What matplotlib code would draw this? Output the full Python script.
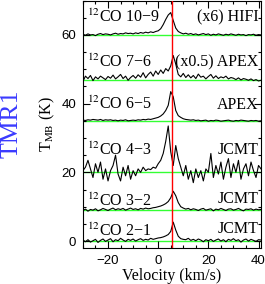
import numpy as np
import matplotlib
matplotlib.use("Agg")
import matplotlib.pyplot as plt
from matplotlib.ticker import MultipleLocator

plt.rcParams['font.family'] = ['Liberation Serif', 'DejaVu Serif']
plt.rcParams['mathtext.fontset'] = 'stix'

# channel velocities (km/s)
velocity = [-30, -29, -28, -27, -26, -25, -24, -23, -22, -21, -20, -19, -18, -17, -16,
            -15, -14, -13, -12, -11, -10, -9, -8, -7, -6, -5, -4, -3, -2, -1,
            0, 1, 2, 3, 4, 5, 6, 7, 8, 9, 10,
            11, 12, 13, 14, 15, 16, 17, 18, 19, 20, 21, 22, 23, 24, 25, 26, 27, 28,
            29, 30, 31, 32, 33, 34, 35, 36, 37, 38, 39, 40, 41]

co21 = [0.3, -0.2, 0.4, -0.3, 0.1, 0.5, -0.4, 0.2, 0.6, -0.1, 0.3, 0.7, -0.2, 0.4, 0.1,
        0.8, 0.3, -0.1, 0.5, 0.2, 0.6, 0.0, 0.4, 0.7, 0.2, 0.5, 0.3, 0.8, 0.5, 0.7,
        0.9, 1.0, 1.2, 1.5, 1.9, 2.8, 5.5, 3.2, 1.4, 0.7, 0.5,
        0.4, 0.8, 0.2, 0.5, 0.1, 0.6, 0.3, -0.2, 0.4, 0.1, 0.5, -0.1, 0.3, 0.6, 0.0,
        0.4, -0.2, 0.5, 0.2, 0.7, 0.1, 0.4, -0.3, 0.3, 0.6, 0.0, 0.5, 0.2, -0.1, 0.4, 0.3]
co32 = [-0.1, 0.3, -0.3, 0.2, 0.0, 0.4, -0.2, 0.1, 0.5, 0.2, -0.1, 0.3, 0.6, 0.1, 0.4,
        0.2, 0.5, 0.0, 0.3, 0.6, 0.2, 0.4, 0.1, 0.5, 0.3, 0.6, 0.4, 0.5, 0.7, 0.8,
        1.0, 1.2, 1.5, 1.9, 2.5, 3.6, 5.5, 4.2, 2.2, 1.0, 0.6,
        0.3, 0.5, 0.1, 0.4, 0.2, -0.1, 0.3, 0.5, 0.0, 0.2, 0.4, -0.2, 0.3, 0.1, 0.5,
        0.2, -0.1, 0.3, 0.4, 0.0, 0.2, 0.5, 0.1, -0.2, 0.3, 0.2, 0.4, 0.0, 0.3, 0.1, 0.2]
co43 = [0.5, 1.5, 3.5, 1.0, -1.5, 2.5, 0.0, 3.0, -2.0, 1.0, -2.5, 0.5, 2.0, 5.0, -0.5,
        -2.5, 1.5, -1.0, 2.0, -2.0, 0.5, -1.0, 1.0, 0.0, 1.5, 0.5, 1.0, 0.8, 1.5, 1.2,
        2.5, 3.5, 5.5, 9.0, 13.5, 6.0, 2.0, 7.8, 4.0, 1.5, -1.0,
        2.0, -2.0, 0.5, -3.0, 1.0, -1.5, 0.5, -2.5, 1.0, 0.0, 5.5, -1.5, 2.0, -0.5, 3.0,
        -2.0, 1.5, 4.0, -1.5, 2.5, 0.0, 3.5, -2.0, 1.0, 2.5, -1.0, 3.0, 0.5, -1.5, 2.0, 1.0]
co65 = [0.2, 0.1, 0.3, 0.2, 0.4, 0.3, 0.2, 0.4, 0.1, 0.3, 0.2, 0.3, 0.1, 0.2, 0.0,
        0.2, 0.1, 0.3, 0.0, 0.1, 0.2, 0.1, 0.3, 0.2, 0.4, 0.3, 0.5, 0.4, 0.6, 0.8,
        1.0, 1.4, 2.0, 3.0, 4.5, 8.5, 7.0, 3.0, 1.5, 1.0, 0.6,
        0.4, 0.3, 0.2, 0.3, 0.1, 0.2, 0.0, 0.1, 0.2, -0.1, 0.1, 0.0, 0.2, 0.1, -0.1,
        0.0, 0.1, 0.2, 0.0, -0.1, 0.1, 0.0, 0.2, 0.1, 0.0, -0.1, 0.1, 0.0, 0.1, -0.1, 0.0]
co76 = [-0.5, 1.0, 0.3, 1.2, -0.3, 0.8, 0.2, 1.0, 0.5, 0.0, 0.9, 0.4, 1.3, 0.2, 0.8,
        1.5, 0.3, 1.0, -0.2, 0.6, 1.2, 0.4, 1.4, 0.7, 2.0, 0.5, 1.5, 2.2, 1.0, 2.5,
        1.5, 2.8, 1.8, 3.2, 2.5, 4.0, 7.0, 4.5, 1.5, 0.8, 1.8,
        0.6, 1.4, 0.5, 1.2, 0.3, 1.6, 0.7, 1.0, 0.2, 0.9, 1.5, 0.4, 1.1, 0.3, 0.8,
        0.5, 1.0, 0.2, 0.6, 0.4, 0.0, 0.5, -0.1, 0.3, 0.1, -0.2, 0.2, -0.3, 0.0, -0.4, -0.2]
co109 = [0.2, -0.1, 0.3, 0.0, 0.1, -0.2, 0.2, 0.4, 0.1, 0.3, 0.2, 0.0, 0.3, 0.5, 0.2,
         0.4, 0.3, 0.6, 0.4, 0.5, 0.3, 0.6, 0.4, 0.7, 0.5, 0.8, 0.6, 0.9, 0.7, 1.0,
         1.2, 1.8, 3.0, 4.5, 5.8, 6.5, 4.2, 2.0, 1.0, 0.6, 0.3,
         0.5, 0.2, 0.4, 0.1, 0.3, 0.0, 0.2, 0.4, 0.1, 0.3, -0.1, 0.2, 0.0, 0.3, 0.1,
         -0.1, 0.2, 0.0, 0.3, 0.1, -0.1, 0.2, 0.0, 0.1, -0.2, 0.1, 0.0, 0.2, -0.1, 0.1, 0.0]

spectra = [co21, co32, co43, co65, co76, co109]
offsets = [0, 9, 20, 35, 47, 60]
line_names = ["2−1", "3−2", "4−3", "6−5", "7−6", "10−9"]
telescopes = ["JCMT", "JCMT", "JCMT", "APEX", "(x0.5) APEX", "(x6) HIFI"]
v_source = 5.7

# label heights (data units)
left_y = [2.8, 11.6, 26.4, 39.8, 52.0, 65.0]
right_y = [3.6, 12.3, 26.5, 39.5, 52.0, 65.0]

fig = plt.figure(figsize=(2.65, 2.84), dpi=100)
ax = fig.add_axes([0.313, 0.127, 0.672, 0.871])

for spec, off in zip(spectra, offsets):
    ax.axhline(off, color='#33ff33', lw=1.0, zorder=1)
    ax.plot(velocity, np.array(spec) + off, color='black', lw=0.8, zorder=2)

ax.axvline(v_source, color='red', lw=1.0, zorder=3)

for name, tel, ly, ry in zip(line_names, telescopes, left_y, right_y):
    ax.text(-28.3, ly, r"$^{12}$CO " + name, fontsize=11.5, ha='left', va='center')
    ax.text(40.0, ry, tel, fontsize=11.5, ha='right', va='center')

ax.set_xlim(-30, 41)
ax.set_ylim(-2, 70)
ax.xaxis.set_major_locator(MultipleLocator(20))
ax.xaxis.set_minor_locator(MultipleLocator(5))
ax.yaxis.set_major_locator(MultipleLocator(20))
ax.yaxis.set_minor_locator(MultipleLocator(5))
ax.tick_params(which='both', direction='in', top=True, right=True, pad=5)
ax.tick_params(which='major', length=5, width=0.8)
ax.tick_params(which='minor', length=2.5, width=0.8)
for lab in ax.get_xticklabels() + ax.get_yticklabels():
    lab.set_family(['Liberation Sans', 'DejaVu Sans'])
    lab.set_fontsize(9.5)
ax.set_xlabel("Velocity (km/s)", fontsize=11.5, labelpad=1)
ax.set_ylabel(r"T$_{\rm MB}$ (K)", fontsize=11.5, labelpad=3)

fig.text(0.042, 0.563, "TMR1", color='#3a3aff', fontsize=18.5, rotation=90,
         ha='center', va='center')

fig.savefig("out.png", dpi=100)
